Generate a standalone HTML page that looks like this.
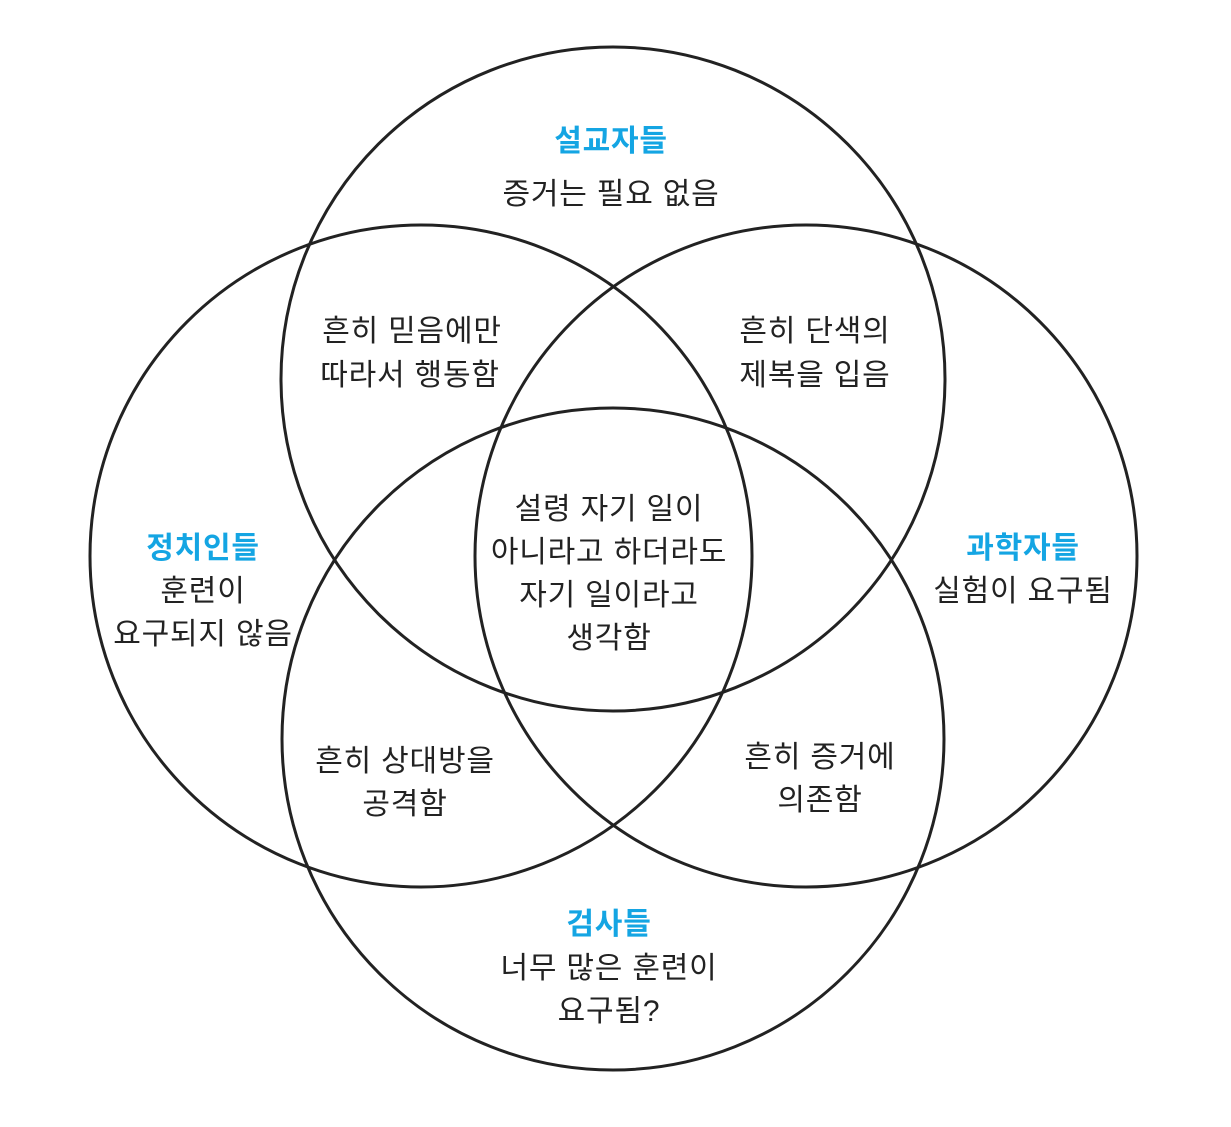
<!DOCTYPE html>
<html><head><meta charset="utf-8"><style>
html,body{margin:0;padding:0;background:#fff;}
svg{display:block;}
text{font-family:"Liberation Sans","Noto Sans CJK KR",sans-serif;font-size:30px;letter-spacing:0.8px;fill:#222;text-anchor:middle;}
.b{fill:#14a5e3;font-weight:bold;}
</style></head><body>
<svg width="1231" height="1127" viewBox="0 0 1231 1127">
<g fill="none" stroke="#222" stroke-width="3">
<circle cx="613" cy="379" r="332"/>
<circle cx="613" cy="739" r="331"/>
<circle cx="421" cy="556" r="331"/>
<circle cx="806" cy="556" r="331"/>
</g>
<text class="b" x="611" y="151">설교자들</text>
<text x="611" y="204">증거는 필요 없음</text>
<text x="412" y="341">흔히 믿음에만</text>
<text x="410" y="385">따라서 행동함</text>
<text x="815" y="341">흔히 단색의</text>
<text x="815" y="385">제복을 입음</text>
<text class="b" x="203" y="558">정치인들</text>
<text x="203" y="601">훈련이</text>
<text x="203" y="644">요구되지 않음</text>
<text class="b" x="1023" y="558">과학자들</text>
<text x="1023" y="601">실험이 요구됨</text>
<text x="609" y="519">설령 자기 일이</text>
<text x="609" y="562">아니라고 하더라도</text>
<text x="609" y="605">자기 일이라고</text>
<text x="609" y="648">생각함</text>
<text x="405" y="771">흔히 상대방을</text>
<text x="405" y="814">공격함</text>
<text x="820" y="767">흔히 증거에</text>
<text x="820" y="810">의존함</text>
<text class="b" x="609" y="934">검사들</text>
<text x="609" y="978">너무 많은 훈련이</text>
<text x="609" y="1021">요구됨?</text>
</svg>
</body></html>
